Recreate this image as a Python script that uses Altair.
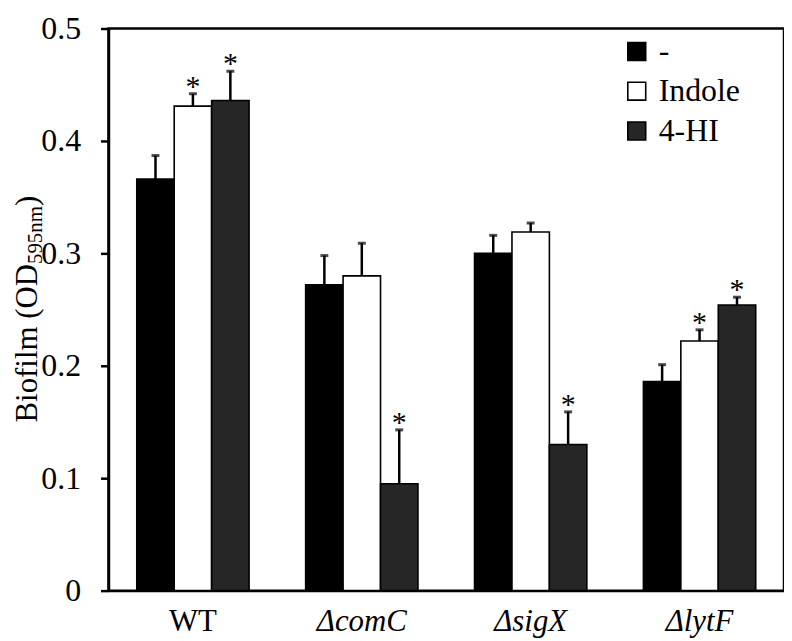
import altair as alt
import pandas as pd

groups = ["WT", "ΔcomC", "ΔsigX", "ΔlytF"]
treatments = ["-", "Indole", "4-HI"]
colors = ["#000000", "#ffffff", "#262626"]

mean_none = [0.366, 0.272, 0.300, 0.186]
mean_indole = [0.431, 0.280, 0.319, 0.222]
mean_4hi = [0.436, 0.095, 0.130, 0.254]

err_none = [0.021, 0.026, 0.016, 0.015]
err_indole = [0.011, 0.029, 0.008, 0.010]
err_4hi = [0.026, 0.048, 0.029, 0.007]

star_none = [0, 0, 0, 0]
star_indole = [1, 0, 0, 1]
star_4hi = [1, 1, 1, 1]

y_ticks = [0, 0.1, 0.2, 0.3, 0.4, 0.5]

means = [mean_none, mean_indole, mean_4hi]
errs = [err_none, err_indole, err_4hi]
stars = [star_none, star_indole, star_4hi]

rows = []
for ti, t in enumerate(treatments):
    for gi, g in enumerate(groups):
        m = means[ti][gi]
        e = errs[ti][gi]
        rows.append({
            "group": g,
            "treat": t,
            "mean": m,
            "top": m + e,
            "star": "*" if stars[ti][gi] else "",
        })
df = pd.DataFrame(rows)

FONT = "Times New Roman, Tinos, Liberation Serif, DejaVu Serif, serif"

x_enc = alt.X(
    "group:N",
    sort=groups,
    scale=alt.Scale(paddingInner=0.335, paddingOuter=0.1675),
    axis=alt.Axis(
        title=None,
        labelAngle=0,
        ticks=False,
        domainColor="black",
        domainWidth=2.5,
        labelFont=FONT,
        labelFontSize=31,
        labelColor="black",
        labelPadding=16,
        labelFontStyle={"condition": {"test": "datum.value == 'WT'", "value": "normal"}, "value": "italic"},
    ),
)
xo_enc = alt.XOffset("treat:N", sort=treatments, scale=alt.Scale(paddingInner=0, paddingOuter=0))
y_scale = alt.Scale(domain=[0, 0.5], nice=False)

base = alt.Chart(df)

bars = base.mark_bar(stroke="black", strokeWidth=1.6).encode(
    x=x_enc,
    xOffset=xo_enc,
    y=alt.Y(
        "mean:Q",
        scale=y_scale,
        axis=alt.Axis(
            title=None,
            values=y_ticks,
            format=".1~f",
            grid=False,
            tickSize=8,
            tickWidth=2.5,
            tickColor="black",
            domainColor="black",
            domainWidth=2.5,
            labelFont=FONT,
            labelFontSize=32,
            labelColor="black",
            labelPadding=20,
        ),
    ),
    color=alt.Color(
        "treat:N",
        sort=treatments,
        scale=alt.Scale(domain=treatments, range=colors),
        legend=alt.Legend(
            title=None,
            orient="none",
            legendX=515,
            legendY=7,
            padding=0,
            symbolType="square",
            symbolSize=324,
            symbolStrokeColor="black",
            symbolStrokeWidth=1.6,
            labelFont=FONT,
            labelFontSize=32,
            labelColor="black",
            labelOffset=6,
            rowPadding=8,
        ),
    ),
)

err_lines = base.mark_rule(color="black", strokeWidth=2.5).encode(
    x=alt.X("group:N", sort=groups),
    xOffset=alt.XOffset("treat:N", sort=treatments),
    y=alt.Y("mean:Q", scale=y_scale),
    y2="top:Q",
)

caps = base.mark_tick(color="black", orient="horizontal", size=8, thickness=3).encode(
    x=alt.X("group:N", sort=groups),
    xOffset=alt.XOffset("treat:N", sort=treatments),
    y=alt.Y("top:Q", scale=y_scale),
)

star_text = base.transform_filter("datum.star != ''").mark_text(
    font=FONT, fontSize=30, baseline="alphabetic", align="center", dy=2, color="black"
).encode(
    x=alt.X("group:N", sort=groups),
    xOffset=alt.XOffset("treat:N", sort=treatments),
    y=alt.Y("top:Q", scale=y_scale),
    text="star:N",
)

title_main = alt.Chart(pd.DataFrame({"t": ["Biofilm (OD"]})).mark_text(
    font=FONT, fontSize=31, angle=270, align="left", baseline="alphabetic", color="black"
).encode(x=alt.value(-72), y=alt.value(396), text="t:N")

title_sub = alt.Chart(pd.DataFrame({"t": ["595nm"]})).mark_text(
    font=FONT, fontSize=21, angle=270, align="left", baseline="alphabetic", color="black"
).encode(x=alt.value(-67), y=alt.value(236.7), text="t:N")

title_end = alt.Chart(pd.DataFrame({"t": [")"]})).mark_text(
    font=FONT, fontSize=31, angle=270, align="left", baseline="alphabetic", color="black"
).encode(x=alt.value(-72), y=alt.value(178.4), text="t:N")

chart = alt.layer(bars, err_lines, caps, star_text, title_main, title_sub, title_end).properties(
    width=679,
    height=565,
    autosize=alt.AutoSizeParams(type="none"),
    padding={"left": 101, "top": 19, "right": 0, "bottom": 47},
    background="white",
).configure_view(
    stroke="black", strokeWidth=2.5
).configure_axis(
    labelFont=FONT
).configure_legend(
    labelFont=FONT
).configure_text(
    font=FONT
)

chart.save("out.html", embed_options={"renderer": "svg", "actions": False})
